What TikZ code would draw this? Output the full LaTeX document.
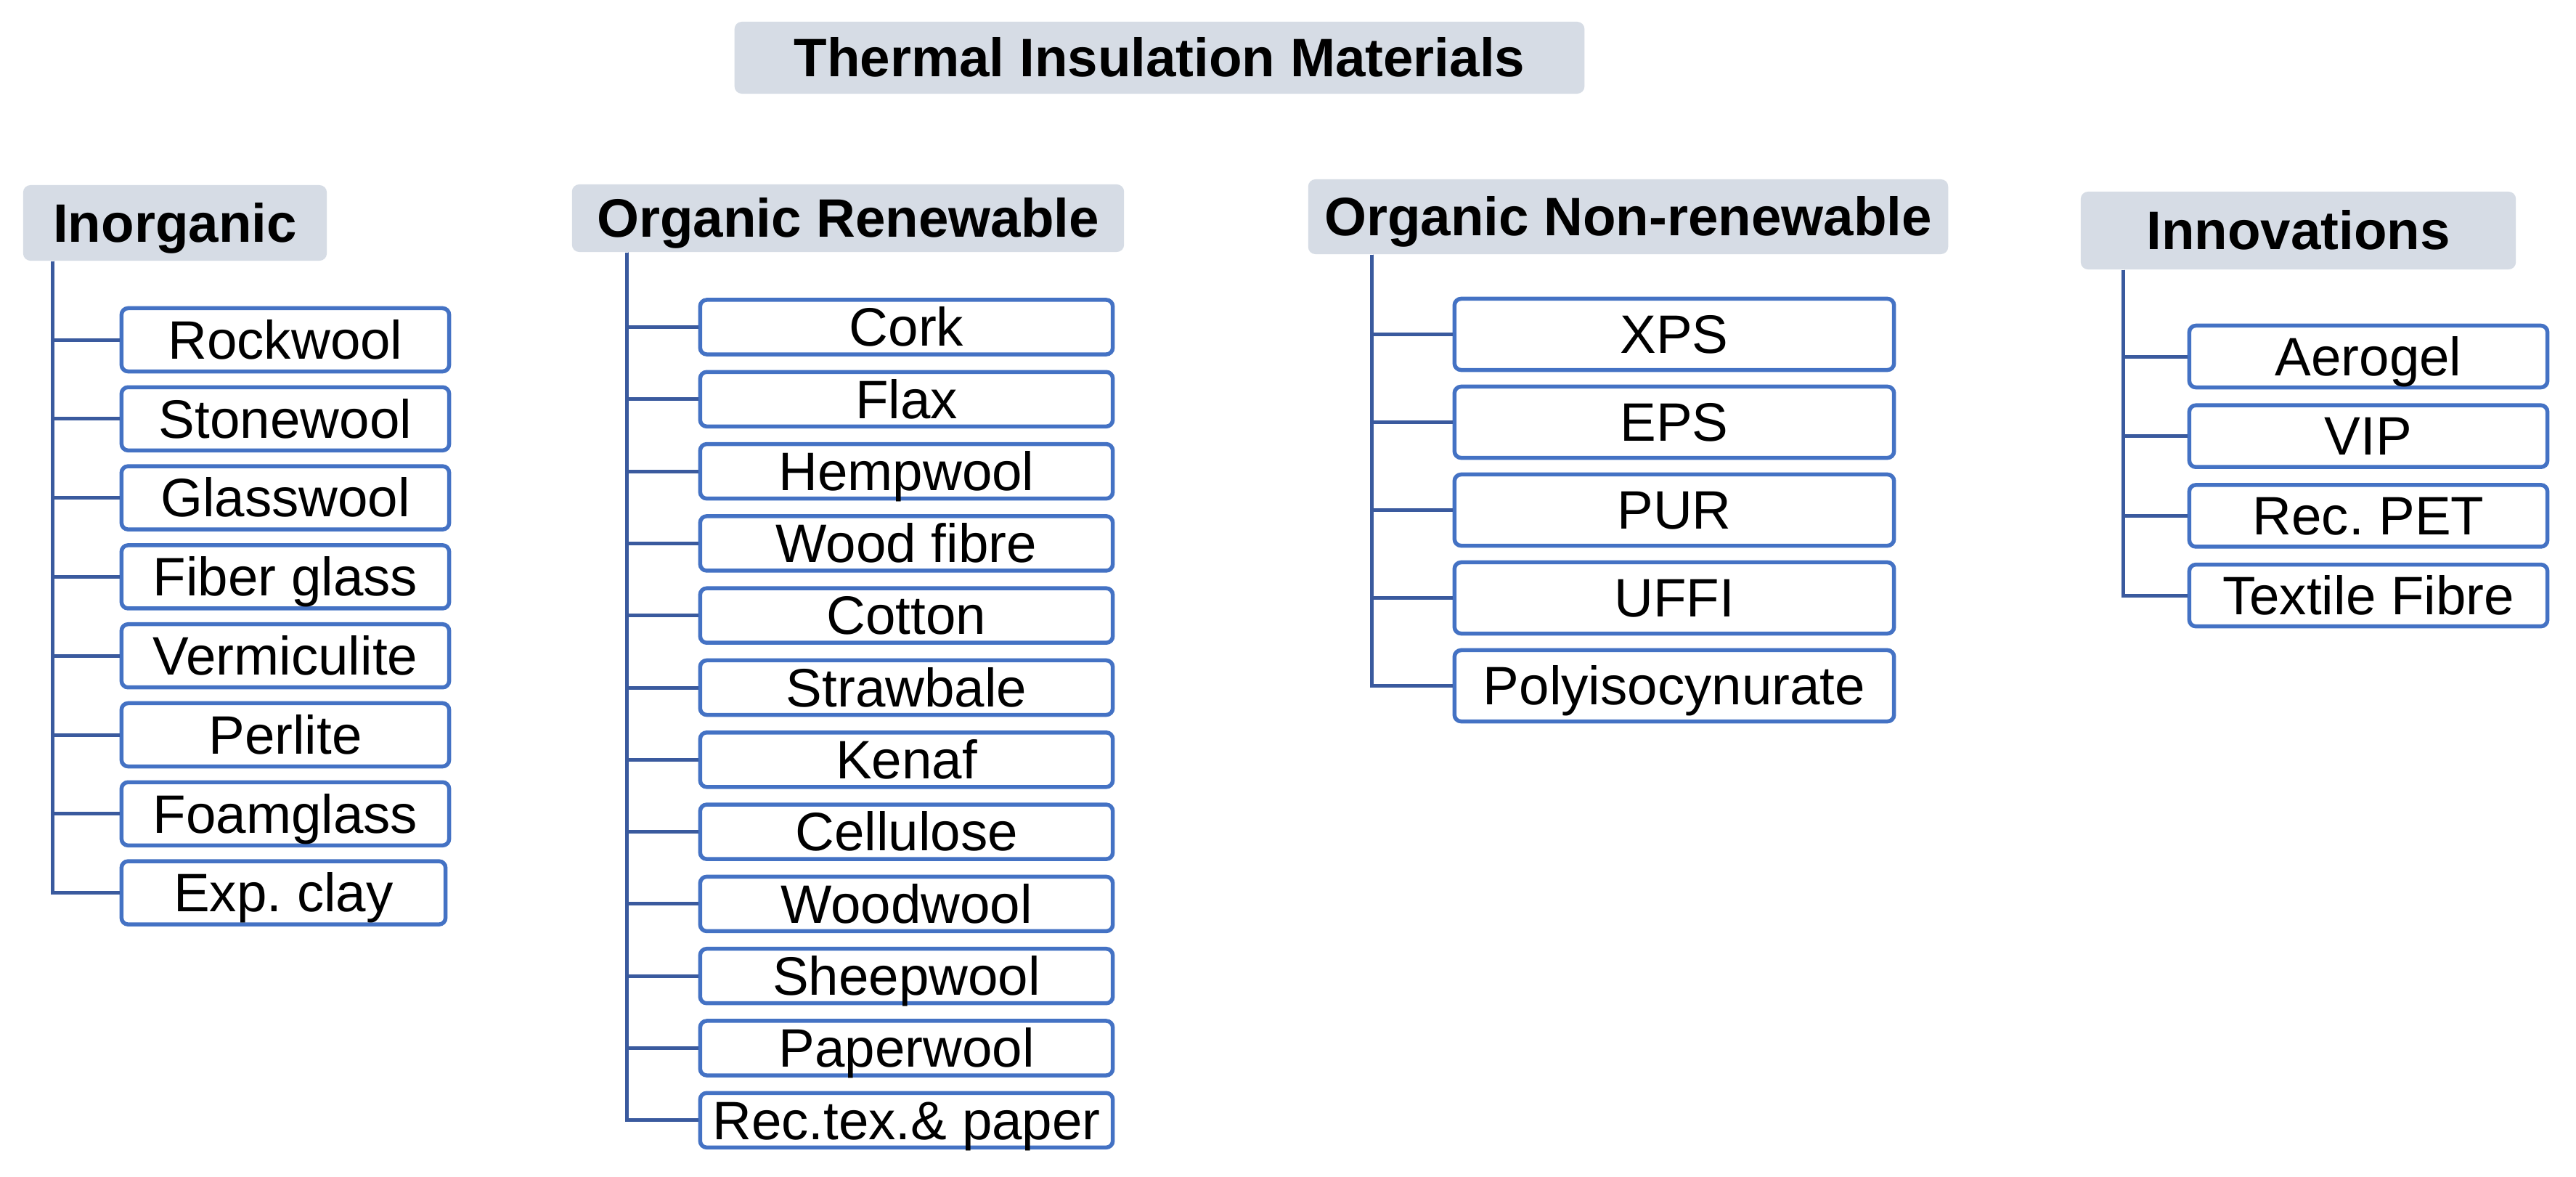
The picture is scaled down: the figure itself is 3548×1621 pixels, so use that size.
\documentclass[tikz,border=0pt]{standalone}
\usepackage{fontspec}
\setmainfont{Liberation Sans}
\frenchspacing
\definecolor{hdrfill}{HTML}{D6DCE5}
\definecolor{boxblue}{HTML}{4472C4}
\definecolor{connblue}{HTML}{3A5A9E}
\tikzset{
  hdr/.style={fill=hdrfill, rounded corners=0.1cm, inner sep=0pt, font=\fontsize{21.2pt}{25pt}\selectfont\bfseries, text height=15.3pt, text depth=0.4pt},
  item/.style={draw=boxblue, fill=white, line width=0.055cm, rounded corners=0.09cm, inner sep=0pt, font=\fontsize{21.2pt}{25pt}\selectfont, text height=15.3pt, text depth=0.4pt},
  conn/.style={draw=connblue, line width=0.05cm},
}
\begin{document}
\begin{tikzpicture}[x=0.01cm, y=-0.01cm]
\useasboundingbox[fill=white] (0,0) rectangle (3548,1621);

% headers
\node[hdr, minimum width=11.70cm, minimum height=0.99cm] (title) at (1597,79.5) {Thermal Insulation Materials};
\node[hdr, minimum width=4.18cm, minimum height=1.04cm] (hA) at (241,307) {Inorganic};
\node[hdr, minimum width=7.60cm, minimum height=0.93cm] (hB) at (1168,300.5) {Organic Renewable};
\node[hdr, minimum width=8.81cm, minimum height=1.03cm] (hC) at (2242.5,298.5) {Organic Non-renewable};
\node[hdr, minimum width=5.99cm, minimum height=1.07cm] (hD) at (3165.5,317.5) {Innovations};

% trunk tops
\coordinate (tA) at ([xshift=0.415cm]hA.south west);
\coordinate (tB) at ([xshift=0.76cm]hB.south west);
\coordinate (tC) at ([xshift=0.88cm]hC.south west);
\coordinate (tD) at ([xshift=0.59cm]hD.south west);

% Inorganic
\foreach \t [count=\i from 0] in {Rockwool,Stonewool,Glasswool,Fiber glass,Vermiculite,Perlite,Foamglass}{
  \node[item, minimum width=4.51cm, minimum height=0.87cm] (a\i) at (393,468+108.8*\i) {\t};
  \draw[conn] (tA) |- (a\i.west);
}
\node[item, minimum width=4.46cm, minimum height=0.87cm] (a7) at (390.5,1229.6) {Exp.\ clay};
\draw[conn] (tA) |- (a7.west);

% Organic Renewable
\foreach \t [count=\i from 0] in {Cork,Flax,Hempwool,Wood fibre,Cotton,Strawbale,Kenaf,Cellulose,Woodwool,Sheepwool,Paperwool,Rec.tex.\& paper}{
  \node[item, minimum width=5.68cm, minimum height=0.75cm] (b\i) at (1248.5,450.5+99.3*\i) {\t};
  \draw[conn] (tB) |- (b\i.west);
}

% Organic Non-renewable
\foreach \t [count=\i from 0] in {XPS,EPS,PUR,UFFI,Polyisocynurate}{
  \node[item, minimum width=6.05cm, minimum height=0.98cm] (c\i) at (2306,460.5+121*\i) {\t};
  \draw[conn] (tC) |- (c\i.west);
}

% Innovations
\foreach \t [count=\i from 0] in {Aerogel,VIP,Rec.\ PET,Textile Fibre}{
  \node[item, minimum width=4.93cm, minimum height=0.85cm] (d\i) at (3262,491+109.7*\i) {\t};
  \draw[conn] (tD) |- (d\i.west);
}
\end{tikzpicture}
\end{document}
